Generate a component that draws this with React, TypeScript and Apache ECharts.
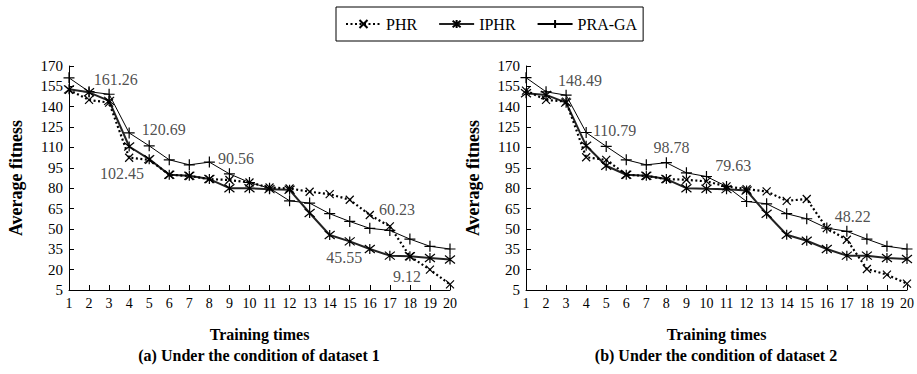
import React, { useEffect, useRef } from "react";
import * as echarts from "echarts";

const xTicks = [1, 2, 3, 4, 5, 6, 7, 8, 9, 10, 11, 12, 13, 14, 15, 16, 17, 18, 19, 20];

// Dataset 1
const phr1 = [152.4, 145.0, 143.0, 102.45, 100.9, 89.9, 89.0, 86.7, 86.0, 84.2, 80.5, 79.8, 77.4, 75.6, 71.5, 60.23, 51.9, 29.8, 20.0, 9.12];
const iphr1 = [152.8, 150.6, 144.3, 110.7, 101.4, 89.9, 89.1, 86.7, 80.0, 80.0, 79.3, 78.8, 61.7, 45.55, 40.8, 35.2, 30.3, 29.8, 28.6, 27.4];
const pra1 = [161.26, 151.1, 149.2, 120.69, 111.2, 100.9, 97.2, 99.2, 90.56, 84.2, 80.0, 70.7, 69.0, 61.2, 55.5, 50.4, 48.9, 42.5, 37.2, 35.2];

// Dataset 2
const phr2 = [151.9, 145.0, 143.8, 102.8, 100.9, 89.9, 89.0, 86.7, 86.2, 85.0, 81.3, 79.3, 77.6, 70.7, 72.0, 50.6, 42.0, 20.5, 16.3, 9.7];
const iphr2 = [149.9, 148.7, 143.0, 111.2, 96.5, 89.9, 89.1, 86.7, 80.0, 79.63, 79.3, 78.3, 61.2, 45.7, 41.3, 35.2, 30.3, 30.3, 28.6, 27.8];
const pra2 = [161.4, 151.0, 148.49, 121.0, 110.79, 100.9, 97.2, 98.78, 91.3, 88.6, 81.3, 70.2, 68.5, 61.2, 57.5, 50.6, 48.22, 42.5, 37.2, 35.2];

// Value annotations (text, anchor in data units)
const annText1 = ["161.26", "120.69", "102.45", "90.56", "60.23", "45.55", "9.12"];
const annX1 = [3.33, 5.72, 3.64, 9.33, 17.36, 14.73, 17.86];
const annY1 = [159.7, 123.4, 90.6, 102.1, 64.1, 28.6, 15.1];
const annText2 = ["148.49", "110.79", "98.78", "79.63", "48.22"];
const annX2 = [3.69, 5.42, 8.25, 11.34, 17.29];
const annY2 = [159.2, 122.5, 110.2, 96.5, 59.2];

const seriesNames = ["PHR", "IPHR", "PRA-GA"];
const subtitles = ["(a) Under the condition of dataset 1", "(b) Under the condition of dataset 2"];

const FONT = "Liberation Serif";
const CROSS = "path://M-1,-1L1,1M-1,1L1,-1";
const STAR = "path://M0,-1L0,1M-0.8,-0.8L0.8,0.8M-0.8,0.8L0.8,-0.8";
const PLUS = "path://M0,-1L0,1M-1,0L1,0";

export default function App() {
  const ref = useRef<HTMLDivElement>(null);
  useEffect(() => {
    if (!ref.current) return;
    const chart = echarts.init(ref.current, null, { renderer: "svg" });
    const grids = [
      { left: 69, right: 467, top: 66, bottom: 84 },
      { left: 526, right: 10, top: 66, bottom: 84 },
    ];
    const mkX = (i: number) => ({
      type: "value",
      gridIndex: i,
      min: 1,
      max: 20,
      interval: 1,
      name: "Training times",
      nameLocation: "middle",
      nameGap: 36,
      nameTextStyle: { fontFamily: FONT, fontSize: 16, fontWeight: "bold", color: "#000" },
      axisLine: { lineStyle: { color: "#000", width: 1 } },
      axisTick: { inside: true, length: 5, lineStyle: { color: "#000" } },
      axisLabel: { fontFamily: FONT, fontSize: 14, color: "#000", margin: 6, formatter: (v: number) => (xTicks.includes(v) ? String(v) : "") },
      splitLine: { show: false },
    });
    const mkY = (i: number) => ({
      type: "value",
      gridIndex: i,
      min: 5,
      max: 170,
      interval: 15,
      name: "Average fitness",
      nameLocation: "middle",
      nameGap: 44,
      nameRotate: 90,
      nameTextStyle: { fontFamily: FONT, fontSize: 18, fontWeight: "bold", color: "#000" },
      axisLine: { show: true, lineStyle: { color: "#000", width: 1 } },
      axisTick: { show: true, inside: true, length: 5, lineStyle: { color: "#000" } },
      axisLabel: { fontFamily: FONT, fontSize: 15, color: "#000", margin: 6 },
      splitLine: { show: false },
    });
    const pair = (arr: number[]) => arr.map((v, i) => [xTicks[i], v]);
    const lineSeries = (name: string, data: number[], gi: number) => {
      const base: any = {
        name,
        type: "line",
        xAxisIndex: gi,
        yAxisIndex: gi,
        data: pair(data),
        showSymbol: true,
        itemStyle: { color: "#000", borderColor: "#000", borderWidth: 1.2 },
      };
      if (name === "PHR") {
        base.symbol = CROSS;
        base.symbolSize = 8;
        base.lineStyle = { color: "#000", width: 2.2, type: [2, 2.5] };
        base.z = 3;
      } else if (name === "IPHR") {
        base.symbol = STAR;
        base.symbolSize = 10;
        base.lineStyle = { color: "#222", width: 2 };
        base.z = 2;
      } else {
        base.symbol = PLUS;
        base.symbolSize = 11;
        base.lineStyle = { color: "#000", width: 1 };
        base.z = 1;
      }
      return base;
    };
    const annSeries = (texts: string[], xs: number[], ys: number[], gi: number) => ({
      type: "scatter",
      xAxisIndex: gi,
      yAxisIndex: gi,
      symbolSize: 0,
      silent: true,
      data: texts.map((t, i) => ({ value: [xs[i], ys[i]], name: t })),
      label: {
        show: true,
        position: "inside",
        formatter: (p: any) => p.name,
        fontFamily: FONT,
        fontSize: 16,
        color: "#222",
      },
      z: 5,
    });
    const option: any = {
      animation: false,
      backgroundColor: "#fff",
      legend: {
        data: seriesNames,
        left: 336,
        top: 7,
        padding: [9, 6, 9, 9],
        borderColor: "#000",
        borderWidth: 1,
        itemWidth: 35,
        itemHeight: 10,
        itemGap: 21,
        textStyle: { fontFamily: FONT, fontSize: 16, color: "#000" },
      },
      grid: grids,
      xAxis: [mkX(0), mkX(1)],
      yAxis: [mkY(0), mkY(1)],
      series: [
        lineSeries("PRA-GA", pra1, 0),
        lineSeries("IPHR", iphr1, 0),
        lineSeries("PHR", phr1, 0),
        lineSeries("PRA-GA", pra2, 1),
        lineSeries("IPHR", iphr2, 1),
        lineSeries("PHR", phr2, 1),
        annSeries(annText1, annX1, annY1, 0),
        annSeries(annText2, annX2, annY2, 1),
      ],
      graphic: [
        { type: "text", x: 259, y: 347, style: { text: subtitles[0], fontFamily: FONT, fontSize: 16, fontWeight: "bold", fill: "#000", align: "center" } },
        { type: "text", x: 716, y: 347, style: { text: subtitles[1], fontFamily: FONT, fontSize: 16, fontWeight: "bold", fill: "#000", align: "center" } },
      ],
    };
    chart.setOption(option);
    return () => chart.dispose();
  }, []);
  return <div ref={ref} style={{ position: "fixed", left: 0, top: 0, width: 917, height: 374, background: "#fff" }} />;
}
